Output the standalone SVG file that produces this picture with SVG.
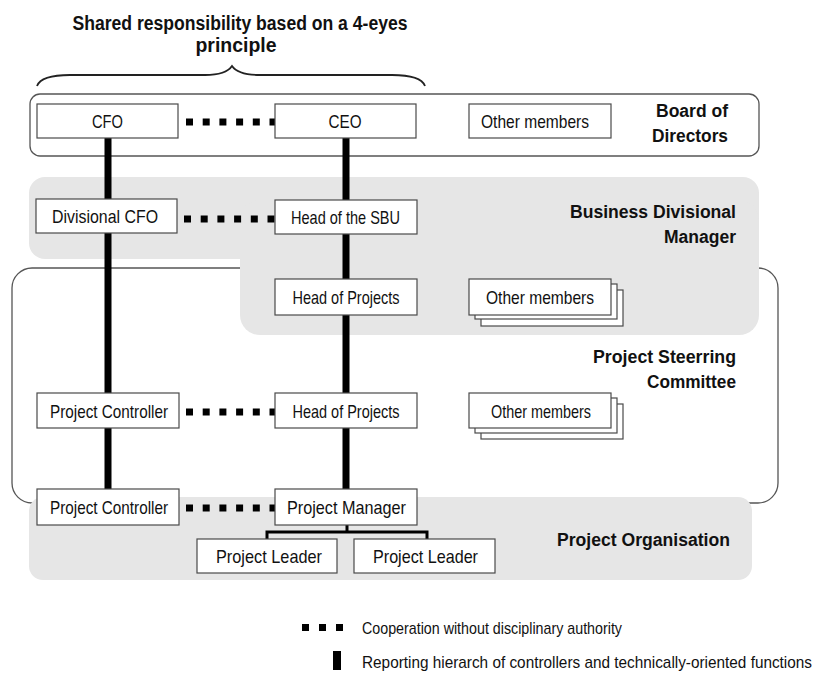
<svg xmlns="http://www.w3.org/2000/svg" width="825" height="680" viewBox="0 0 825 680">
  <style>
    .box { fill: #ffffff; stroke: #4a4a4a; stroke-width: 1.2; }
    .lbl { font-family: "Liberation Sans Narrow", "Liberation Sans", Arial, sans-serif; font-size: 19px; fill: #111; text-anchor: middle; }
    .ttl { font-family: "Liberation Sans", Arial, sans-serif; font-size: 18px; font-weight: bold; fill: #111; text-anchor: end; }
    .leg { font-family: "Liberation Sans Narrow", "Liberation Sans", Arial, sans-serif; font-size: 17px; fill: #111; }
    .zone { fill: #e6e6e6; }
    .frame { fill: none; stroke: #555; stroke-width: 1.3; }
    .report { stroke: #000; stroke-width: 7; fill: none; }
    .coop { stroke: #000; stroke-width: 7; stroke-dasharray: 7 9.7; fill: none; }
  </style>

  <rect width="825" height="680" fill="#ffffff"/>

  <!-- heading and brace -->
  <g id="heading">
    <text class="ttl" x="240" y="29.5" style="text-anchor: middle; font-size: 20px" textLength="335" lengthAdjust="spacingAndGlyphs">Shared responsibility based on a 4-eyes</text>
    <text class="ttl" x="236" y="52" style="text-anchor: middle; font-size: 20px" textLength="81" lengthAdjust="spacingAndGlyphs">principle</text>
    <path d="M37,86 C40,78 52,75 70,75 L205,75 C220,75 228,72 232,66 C236,72 244,75 260,75 L392,75 C410,75 422,78 425,86" fill="none" stroke="#222" stroke-width="1.8"/>
  </g>

  <!-- organisational levels -->
  <g id="board-of-directors">
    <rect class="frame" x="30" y="94" width="729" height="62" rx="10"/>
    <text class="ttl" x="728" y="117" textLength="72" lengthAdjust="spacingAndGlyphs">Board of</text>
    <text class="ttl" x="728" y="142" textLength="76" lengthAdjust="spacingAndGlyphs">Directors</text>
  </g>

  <g id="project-steering-committee">
    <rect class="frame" x="12" y="268" width="766" height="235" rx="20"/>
  </g>

  <g id="business-divisional-manager">
    <rect class="zone" x="29" y="177" width="730" height="82" rx="16"/>
    <rect class="zone" x="240" y="200" width="519" height="135" rx="20"/>
    <text class="ttl" x="736" y="218" textLength="166" lengthAdjust="spacingAndGlyphs">Business Divisional</text>
    <text class="ttl" x="736" y="243" textLength="72" lengthAdjust="spacingAndGlyphs">Manager</text>
  </g>

  <g id="steering-label">
    <text class="ttl" x="736" y="363" textLength="143" lengthAdjust="spacingAndGlyphs">Project Steerring</text>
    <text class="ttl" x="736" y="388" textLength="89" lengthAdjust="spacingAndGlyphs">Committee</text>
  </g>

  <g id="project-organisation">
    <rect class="zone" x="29" y="497" width="723" height="83" rx="14" fill="#e8e8e8"/>
    <text class="ttl" x="730" y="546" textLength="173" lengthAdjust="spacingAndGlyphs">Project Organisation</text>
  </g>

  <!-- connectors -->
  <g id="connectors">
    <line class="report" x1="108" y1="138" x2="108" y2="489"/>
    <line class="report" x1="346" y1="138" x2="346" y2="489"/>
    <line class="coop" x1="186" y1="122" x2="276" y2="122"/>
    <line class="coop" x1="184" y1="219" x2="276" y2="219"/>
    <line class="coop" x1="186" y1="412" x2="276" y2="412"/>
    <line class="coop" x1="186" y1="508" x2="276" y2="508"/>
    <path d="M347,525 L347,532 M267,539 L267,532 L427,532 L427,539" fill="none" stroke="#000" stroke-width="3"/>
  </g>

  <!-- nodes -->
  <g id="cfo">
    <rect class="box" x="37" y="104" width="141" height="34"/>
    <text class="lbl" x="107.5" y="128" textLength="31" lengthAdjust="spacingAndGlyphs">CFO</text>
  </g>
  <g id="ceo">
    <rect class="box" x="275" y="104" width="141" height="34"/>
    <text class="lbl" x="345" y="128" textLength="33" lengthAdjust="spacingAndGlyphs">CEO</text>
  </g>
  <g id="board-other-members">
    <rect class="box" x="469" y="104" width="142" height="34"/>
    <text class="lbl" x="535" y="128" textLength="108" lengthAdjust="spacingAndGlyphs">Other members</text>
  </g>

  <g id="divisional-cfo">
    <rect class="box" x="36" y="199" width="141" height="34"/>
    <text class="lbl" x="105" y="223" textLength="106" lengthAdjust="spacingAndGlyphs">Divisional CFO</text>
  </g>
  <g id="head-of-sbu">
    <rect class="box" x="275" y="200" width="142" height="34"/>
    <text class="lbl" x="345.5" y="224" textLength="109" lengthAdjust="spacingAndGlyphs">Head of the SBU</text>
  </g>

  <g id="head-of-projects-division">
    <rect class="box" x="275" y="279" width="142" height="36"/>
    <text class="lbl" x="346" y="304" textLength="107" lengthAdjust="spacingAndGlyphs">Head of Projects</text>
  </g>
  <g id="division-other-members">
    <rect class="box" x="481" y="290" width="142" height="36"/>
    <rect class="box" x="475" y="284" width="142" height="35"/>
    <rect class="box" x="469" y="279" width="142" height="36"/>
    <text class="lbl" x="540" y="304" textLength="108" lengthAdjust="spacingAndGlyphs">Other members</text>
  </g>

  <g id="project-controller-steering">
    <rect class="box" x="37" y="393" width="142" height="35"/>
    <text class="lbl" x="109" y="417.5" textLength="118" lengthAdjust="spacingAndGlyphs">Project Controller</text>
  </g>
  <g id="head-of-projects-steering">
    <rect class="box" x="275" y="393" width="142" height="35"/>
    <text class="lbl" x="346" y="417.5" textLength="107" lengthAdjust="spacingAndGlyphs">Head of Projects</text>
  </g>
  <g id="steering-other-members">
    <rect class="box" x="481" y="404" width="142" height="35"/>
    <rect class="box" x="475" y="398" width="142" height="35"/>
    <rect class="box" x="469" y="393" width="142" height="35"/>
    <text class="lbl" x="541" y="417.5" textLength="100" lengthAdjust="spacingAndGlyphs">Other members</text>
  </g>

  <g id="project-controller">
    <rect class="box" x="37" y="489" width="142" height="36"/>
    <text class="lbl" x="109" y="514" textLength="118" lengthAdjust="spacingAndGlyphs">Project Controller</text>
  </g>
  <g id="project-manager">
    <rect class="box" x="275" y="489" width="142" height="36"/>
    <text class="lbl" x="346.5" y="514" textLength="119" lengthAdjust="spacingAndGlyphs">Project Manager</text>
  </g>
  <g id="project-leader-1">
    <rect class="box" x="197" y="539" width="140" height="34"/>
    <text class="lbl" x="269" y="563" textLength="106" lengthAdjust="spacingAndGlyphs">Project Leader</text>
  </g>
  <g id="project-leader-2">
    <rect class="box" x="354" y="539" width="141" height="34"/>
    <text class="lbl" x="425.5" y="563" textLength="105" lengthAdjust="spacingAndGlyphs">Project Leader</text>
  </g>

  <!-- legend -->
  <g id="legend">
    <line x1="302" y1="627.5" x2="344" y2="627.5" stroke="#000" stroke-width="7" stroke-dasharray="7 10"/>
    <text class="leg" x="362" y="634" textLength="260" lengthAdjust="spacingAndGlyphs">Cooperation without disciplinary authority</text>
    <rect x="333" y="651" width="8" height="19" fill="#000"/>
    <text class="leg" x="362" y="668" textLength="450" lengthAdjust="spacingAndGlyphs">Reporting hierarch of controllers and technically-oriented functions</text>
  </g>
</svg>
